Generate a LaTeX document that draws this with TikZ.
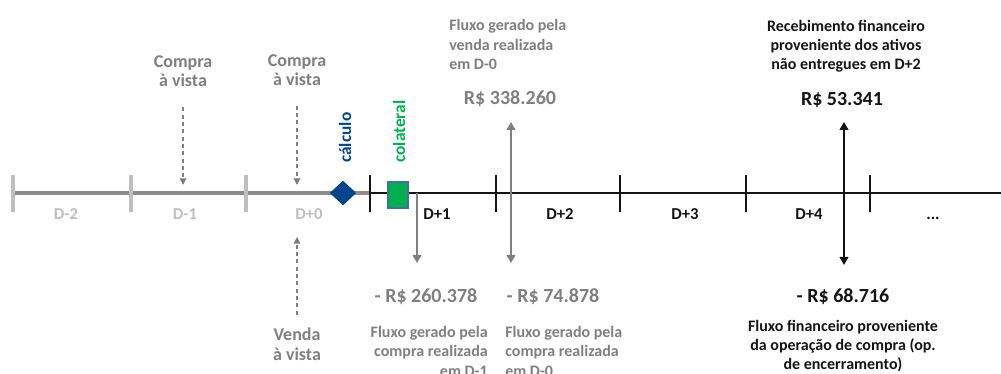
\documentclass[tikz,border=0pt]{standalone}
\usepackage{fontspec}
\setmainfont{Carlito}
\usetikzlibrary{arrows.meta,shapes.geometric}
\definecolor{txtgray}{RGB}{127,127,127}
\definecolor{axisgray}{RGB}{140,140,140}
\definecolor{ticklight}{RGB}{191,191,191}
\definecolor{inkblack}{RGB}{20,20,20}
\definecolor{calcblue}{RGB}{0,69,140}
\definecolor{colgreen}{RGB}{0,176,80}
\definecolor{boxedge}{RGB}{65,113,156}

\begin{document}
\begin{tikzpicture}[
  x=0.75pt, y=-0.75pt,
  font=\bfseries,
  >={Triangle[length=6pt,width=6.5pt]},
  desc/.style={inner sep=0pt, font=\bfseries\fontsize{12}{14.5}\selectfont},
  val/.style={inner sep=0pt, anchor=base, font=\bfseries\fontsize{15}{18}\selectfont},
  spot/.style={inner sep=0pt, anchor=north, align=center, text=txtgray, font=\bfseries\fontsize{13.5}{14.5}\selectfont},
  day/.style={inner sep=0pt, anchor=base, font=\bfseries\fontsize{12.5}{14}\selectfont},
  tag/.style={inner sep=0pt, rotate=90, anchor=base west, font=\bfseries\fontsize{13}{15}\selectfont},
  oldtick/.style={draw=ticklight, line width=2.4pt},
  newtick/.style={draw=inkblack, line width=2.2pt},
  flow/.style={line width=1.6pt, txtgray},
  cash/.style={line width=2pt, inkblack},
  spotflow/.style={-{Triangle[length=5pt,width=5pt]}, txtgray, line width=0.9pt, dash pattern=on 3pt off 2.5pt},
]
\useasboundingbox (0,0) rectangle (1001,374);

% ---- time axis: past days in gray, settlement days in black
\coordinate (start) at (13,193);
\coordinate (split) at (370,193);
\coordinate (end)   at (1001,193);
\draw[line width=2.4pt, axisgray] (start) -- (split);
\draw[line width=2pt, inkblack] (split) -- (end);
\foreach \x in {13,131,246} \draw[oldtick] (\x,175) -- (\x,212);
\foreach \x in {370,496,620,746,870} \draw[newtick] (\x,175) -- (\x,212);

% ---- day labels
\foreach \x/\d [count=\i] in {66/D-2,185/D-1,309/D+0}
  \node[day, text=ticklight] (old\i) at (\x,220) {\d};
\foreach \x/\d [count=\i] in {437/D+1,560/D+2,685/D+3,809/D+4}
  \node[day, text=inkblack] (new\i) at (\x,220) {\d};
\node[day, text=inkblack] (new5) at (933,220) {...};

% ---- calculation date and collateral
\node[diamond, fill=calcblue, inner sep=0pt, minimum width=20pt, minimum height=18.5pt] (calc) at (343,193) {};
\node[rectangle, fill=colgreen, draw=boxedge, line width=0.8pt, inner sep=0pt, minimum width=15pt, minimum height=19.5pt] (coll) at (398,195) {};
\node[tag, text=calcblue] (calcTag) at (351,163) {cálculo};
\node[tag, text=colgreen] (collTag) at (405,163) {colateral};

% ---- spot trades
\node[spot] (buyA)  at (183,55)  {Compra\\à vista};
\node[spot] (buyB)  at (297,54)  {Compra\\à vista};
\node[spot] (sellC) at (297,328) {Venda\\à vista};
\coordinate (hitA) at (183,185);
\coordinate (hitB) at (297,185);
\coordinate (hitC) at (297,237);
\draw[spotflow, shorten <=15.5pt] (buyA.south) -- (hitA);
\draw[spotflow, shorten <=15pt] (buyB.south) -- (hitB);
\draw[spotflow, shorten <=10pt] (sellC.north) -- (hitC);

% ---- financial flows in gray
\node[desc, anchor=north west, align=left, text=txtgray] (dSale) at (449,19.5) {Fluxo gerado pela\\venda realizada\\em D-0};
\node[val, text=txtgray] (vSale) at (510,105) {R\$ 338.260};
\node[val, text=txtgray] (vBuy1) at (426,303) {- R\$ 260.378};
\node[val, text=txtgray] (vBuy0) at (553,303) {- R\$ 74.878};
\node[desc, anchor=north east, align=right, text=txtgray] (dBuy1) at (488,326) {Fluxo gerado pela\\compra realizada\\em D-1};
\node[desc, anchor=north west, align=left, text=txtgray] (dBuy0) at (505,326) {Fluxo gerado pela\\compra realizada\\em D-0};
\coordinate (p1)    at (417,193);
\coordinate (p1end) at (417,263);
\coordinate (sTop)  at (511,122);
\coordinate (sBot)  at (511,263);
\draw[flow, ->]  (p1) -- (p1end);
\draw[flow, <->] (sTop) -- (sBot);

% ---- closing operation in black
\node[desc, anchor=north, align=center, text=inkblack] (dRec) at (846,19.5) {Recebimento financeiro\\proveniente dos ativos\\não entregues em D+2};
\node[val, text=inkblack] (vRec) at (842,106) {R\$ 53.341};
\node[val, text=inkblack] (vEnc) at (843,303) {- R\$ 68.716};
\node[desc, anchor=north, align=center, text=inkblack] (dEnc) at (843,319.5) {Fluxo financeiro proveniente\\da operação de compra (op.\\de encerramento)};
\coordinate (rTop) at (844,122);
\coordinate (rBot) at (844,265);
\draw[cash, <->] (rTop) -- (rBot);
\end{tikzpicture}
\end{document}
